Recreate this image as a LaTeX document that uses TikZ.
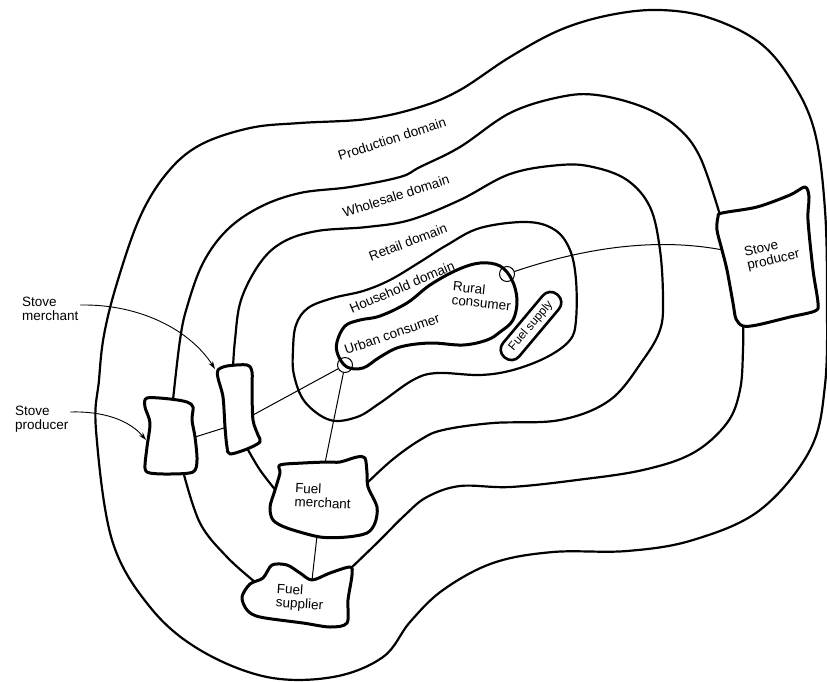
\documentclass[tikz,border=0pt]{standalone}
\usepackage{fontspec}
\setmainfont{Liberation Sans}
\usetikzlibrary{arrows.meta}
\begin{document}
\begin{tikzpicture}[x=1pt,y=-1pt,line join=round,line cap=round,
  contour/.style={line width=2.2pt},
  inner/.style={line width=3pt},
  boxline/.style={line width=3pt, fill=white},
  link/.style={line width=1pt},
  ptr/.style={line width=0.9pt, -{Stealth[length=8pt,width=5pt]}},
  lab/.style={font=\fontsize{13.5}{13.5}\selectfont, inner sep=0pt, align=left},
  ring/.style={circle, draw, line width=1pt, minimum size=15pt, inner sep=0pt}]
\useasboundingbox (0,0) rectangle (827,681);

% ---- outer contour (production domain)
\draw[contour] plot[smooth cycle, tension=0.6] coordinates {
 (96,430) (99,380) (104,335) (117,283) (140,217) (167,173) (200,145) (250,128)
 (300,123) (367,119) (420,107) (460,90) (510,57) (560,30) (610,15) (660,10)
 (710,18) (760,43) (793,83) (815,133) (825,210) (827,300) (825,385) (810,450)
 (760,510) (693,540) (627,551) (553,552) (493,563) (443,590) (410,622) (383,657)
 (333,677) (267,677) (200,650) (150,607) (112,540)};

% ---- production / wholesale boundary
\draw[contour] plot[smooth, tension=0.6] coordinates {
 (720,215) (700,157) (677,127) (643,107) (597,95) (560,97) (510,113) (460,147)
 (420,167) (400,177) (350,187) (300,193) (260,207) (227,230) (203,263) (187,307)
 (180,340) (173,400)};
\draw[contour] plot[smooth, tension=0.6] coordinates {
 (743,322) (743,350) (740,390) (727,423) (693,453) (643,470) (577,480) (510,487)
 (460,486) (427,497) (405,515) (378,542) (350,569)};
\draw[contour] plot[smooth, tension=0.6] coordinates {
 (255,582) (227,557) (200,523) (183,471)};

% ---- wholesale / retail boundary
\draw[contour] plot[smooth, tension=0.6] coordinates {
 (233,368) (235,340) (241,300) (260,263) (283,242) (317,231) (367,227) (410,220)
 (460,200) (510,174) (560,165) (593,167) (627,180) (650,207) (660,250) (663,300)
 (660,330) (643,360) (610,400) (560,420) (493,423) (443,430) (420,440) (392,460)
 (365,485)};
\draw[contour] plot[smooth, tension=0.6] coordinates {
 (277,492) (260,470) (247,448)};

% ---- retail / household boundary
\draw[contour] plot[smooth cycle, tension=0.6] coordinates {
 (293,350) (296,325) (308,308) (333,298) (363,291) (390,280) (420,262) (447,245)
 (480,228) (527,222) (555,230) (570,250) (576,280) (576,320) (570,340) (547,357)
 (513,370) (480,375) (437,373) (413,380) (380,403) (357,417) (330,420) (305,402)
 (294,375)};

% ---- consumer blob
\draw[inner] plot[smooth cycle, tension=0.6] coordinates {
 (337,342) (345,326) (360,320) (380,316) (407,303) (430,285) (457,270) (480,263)
 (500,266) (512,280) (517,300) (513,320) (500,332) (487,340) (463,345) (430,343)
 (400,347) (380,357) (363,368) (347,367) (338,355)};

% ---- fuel supply
\node[draw, line width=2.6pt, rounded corners=10pt, minimum width=82pt,
      minimum height=21pt, inner sep=0pt, rotate=50,
      font=\fontsize{12}{12}\selectfont] (fsup) at (531,326) {Fuel supply};

% ---- rings
\node[ring] (ur) at (345,365) {};
\node[ring] (rr) at (507,274) {};

% ---- anchor points on the irregular boxes
\coordinate (lspR) at (195,437);
\coordinate (lspL) at (146,440);
\coordinate (smL)  at (227,427);
\coordinate (smR)  at (253,415);
\coordinate (smTL) at (215,369);
\coordinate (fmT)  at (325,463);
\coordinate (fmB)  at (317,536);
\coordinate (fsT)  at (312,580);
\coordinate (rspL) at (723,250);

% ---- connectors
\draw[link] (lspR) -- (smL);
\draw[link] (smR) -- (ur);
\draw[link] (ur) -- (fmT);
\draw[link] (fmB) -- (fsT);
\draw[link] (rr) .. controls (590,246) and (660,238) .. (rspL);

% ---- boxes
% right stove producer
\draw[boxline] plot[smooth cycle, tension=0.5] coordinates {
 (722,213) (757,207) (790,195) (805,187) (809,197) (808,220) (813,270) (818,303)
 (815,311) (790,317) (757,325) (743,326) (736,319) (733,303) (727,270) (722,250)
 (717,230) (718,217)};
% left stove producer
\draw[boxline] plot[smooth cycle, tension=0.5] coordinates {
 (147,398) (170,399) (187,402) (193,407) (192,420) (195,437) (197,460) (193,472)
 (170,474) (150,473) (145,468) (147,447) (150,423) (145,407)};
% stove merchant
\draw[boxline] plot[smooth cycle, tension=0.5] coordinates {
 (218,370) (227,366) (247,365) (252,372) (252,390) (253,420) (258,435) (260,442)
 (247,449) (230,454) (227,447) (225,427) (223,397) (218,378)};
% fuel merchant
\draw[boxline] plot[smooth cycle, tension=0.5] coordinates {
 (280,465) (303,463) (327,462) (340,462) (357,457) (365,458) (367,473) (368,487)
 (377,507) (375,523) (367,533) (347,537) (320,537) (287,528) (273,520) (270,507)
 (275,490) (280,473)};
% fuel supplier
\draw[boxline] plot[smooth cycle, tension=0.5] coordinates {
 (272,565) (287,565) (300,573) (312,580) (330,573) (350,567) (352,575) (348,600)
 (347,623) (330,627) (303,623) (260,617) (247,610) (242,597) (250,584) (263,578)};

% ---- texts in boxes
\node[lab, rotate=13] (tsp) at (772,254) {Stove\\producer};
\node[lab, rotate=-3] (tfm) at (323,496) {Fuel\\merchant};
\node[lab, rotate=-4] (tfs) at (300,598) {Fuel\\supplier};

% ---- domain labels
\node[lab, rotate=18] (dprod) at (392,139) {Production domain};
\node[lab, rotate=18] (dwhol) at (396,196) {Wholesale domain};
\node[lab, rotate=21] (dret)  at (408,242) {Retail domain};
\node[lab, rotate=23] (dhh)   at (402,287) {Household domain};
\node[lab, rotate=19] (urb)   at (392,334) {Urban consumer};
\node[lab, rotate=-6] (rur)   at (482,296) {Rural\\consumer};

% ---- outside labels with pointers
\node[lab, anchor=west] (lsm) at (22,309) {Stove\\merchant};
\node[lab, anchor=west] (lsp) at (15,419) {Stove\\producer};
\draw[ptr] (lsm.east) ++(2,-4) coordinate (a1) (a1) .. controls (140,304) and (190,330) .. (smTL);
\draw[ptr] (lsp.east) ++(2,-7) coordinate (a2) (a2) .. controls (105,411) and (130,421) .. (lspL);
\end{tikzpicture}
\end{document}
